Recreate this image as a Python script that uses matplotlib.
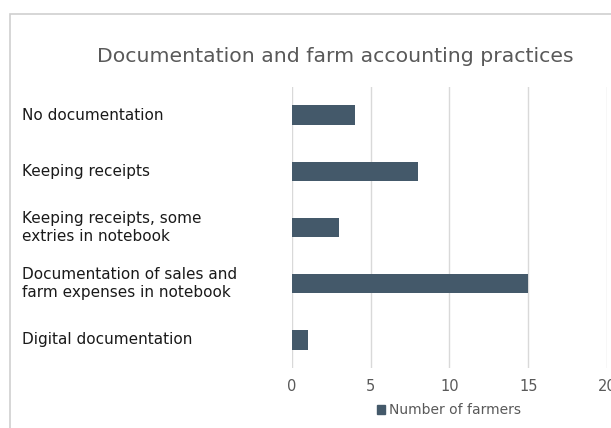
import matplotlib
matplotlib.use("Agg")
import matplotlib.pyplot as plt
from matplotlib.patches import Rectangle, Patch

categories = [
    "No documentation",
    "Keeping receipts",
    "Keeping receipts, some\nextries in notebook",
    "Documentation of sales and\nfarm expenses in notebook",
    "Digital documentation",
]
values = [4, 8, 3, 15, 1]
xticks = [0, 5, 10, 15, 20]
title = "Documentation and farm accounting practices"
series_name = "Number of farmers"

bar_color = "#44596a"
text_gray = "#595959"
grid_gray = "#d9d9d9"

W, H = 611, 428
fig = plt.figure(figsize=(W / 100, H / 100), dpi=100)
fig.patch.set_facecolor("white")

# outer chart border (extends past right/bottom edges)
fig.patches.append(Rectangle((10 / W, -0.1), 1.2, 1 - 14 / H + 0.1,
                             transform=fig.transFigure, fill=False,
                             edgecolor="#cfcfcf", linewidth=1.2))

ax = fig.add_axes([292 / W, 1 - 368 / H, (607 - 292) / W, (368 - 87) / H])
y = list(range(len(categories)))
ax.barh(y, values, height=0.345, color=bar_color, zorder=3)
ax.set_ylim(len(categories) - 0.5, -0.5)
ax.set_xlim(0, 20)
ax.set_xticks(xticks)
ax.set_xticklabels([str(t) for t in xticks], color=text_gray, fontsize=10.5)
ax.tick_params(axis="x", length=0, pad=8)
ax.grid(axis="x", color=grid_gray, linewidth=1, zorder=0)
for s in ax.spines.values():
    s.set_visible(False)

ax.set_yticks(y)
ax.set_yticklabels(categories, fontsize=11, color="#1a1a1a", ha="left",
                   linespacing=1.3, va="center")
for lbl in ax.get_yticklabels():
    lbl.set_y(lbl.get_position()[1])
ax.tick_params(axis="y", length=0, pad=(292 - 22) * 0.72)

fig.text(335 / W, 1 - 56 / H, title, ha="center", va="center",
         fontsize=14.7, color=text_gray)

fig.legend(handles=[Patch(color=bar_color, label=series_name)],
           loc="center", bbox_to_anchor=(449 / W, 1 - 410 / H),
           frameon=False, fontsize=10, handlelength=0.6, handleheight=0.6,
           handletextpad=0.3, labelcolor=text_gray)

fig.savefig("out.png", dpi=100)
